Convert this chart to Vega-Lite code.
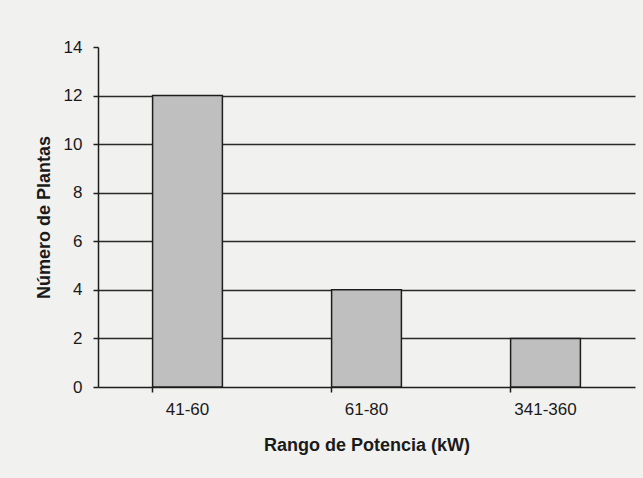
{
  "$schema": "https://vega.github.io/schema/vega-lite/v6.json",
  "autosize": {"type": "none"},
  "width": 537,
  "height": 340,
  "padding": {"left": 98, "top": 47, "right": 8, "bottom": 91},
  "background": "#f1f1ef",
  "data": {
    "values": [
      {"rango": "41-60", "plantas": 12},
      {"rango": "61-80", "plantas": 4},
      {"rango": "341-360", "plantas": 2}
    ]
  },
  "mark": {"type": "bar", "fill": "#bfbfbf", "stroke": "#1e1e1e", "strokeWidth": 1.5},
  "encoding": {
    "x": {
      "field": "rango",
      "type": "nominal",
      "sort": null,
      "scale": {"paddingInner": 0.61, "paddingOuter": 0.305},
      "axis": {
        "title": "Rango de Potencia (kW)",
        "labelAngle": 0,
        "bandPosition": 0,
        "labelPadding": 9,
        "titlePadding": 19
      }
    },
    "y": {
      "field": "plantas",
      "type": "quantitative",
      "scale": {"domain": [0, 14]},
      "axis": {
        "title": "Número de Plantas",
        "values": [0, 2, 4, 6, 8, 10, 12, 14],
        "grid": true,
        "gridOpacity": {"condition": {"test": "datum.value == 14 || datum.value == 0", "value": 0}, "value": 1},
        "labelPadding": 11,
        "titlePadding": 10
      }
    }
  },
  "config": {
    "view": {"stroke": null},
    "axis": {
      "domainColor": "#1e1e1e",
      "domainWidth": 1.5,
      "tickColor": "#1e1e1e",
      "tickWidth": 1.5,
      "tickSize": 5,
      "gridColor": "#2a2a2a",
      "gridWidth": 1.5,
      "labelFont": "Liberation Sans",
      "labelFontSize": 17,
      "labelColor": "#1a1a1a",
      "titleFont": "Liberation Sans",
      "titleFontSize": 18,
      "titleFontWeight": "bold",
      "titleColor": "#1a1a1a"
    }
  }
}
